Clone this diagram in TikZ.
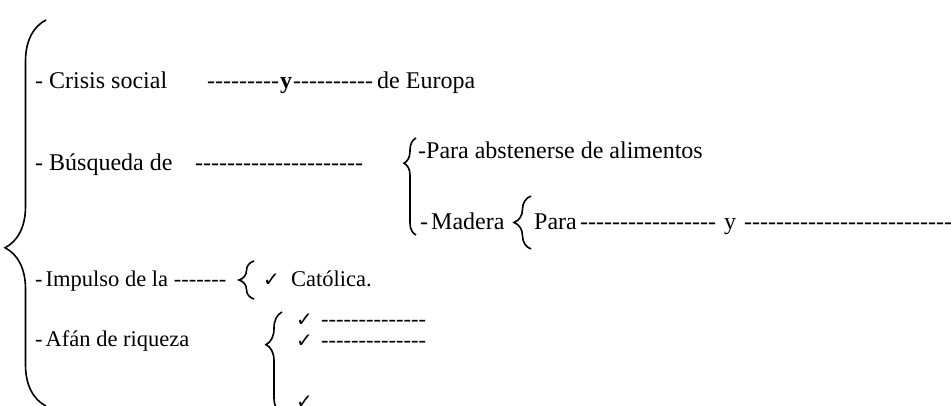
\documentclass[tikz,border=0pt]{standalone}
\usepackage{fontspec}
\setmainfont{Liberation Serif}[Ligatures=TeXOff]
\newfontfamily\simbolo{DejaVu Sans}
\usetikzlibrary{positioning,decorations.pathreplacing}

\begin{document}
\begin{tikzpicture}[
  x=1pt, y=-1pt,
  font=\fontsize{24}{29}\selectfont,
  texto/.style={anchor=base west, inner sep=0pt},
  menor/.style={texto, font=\fontsize{22.5}{26}\selectfont},
  visto/.style={anchor=base west, inner sep=0pt,
                font=\simbolo\fontsize{20}{20}\selectfont},
  llave/.style 2 args={decorate, line width=1.6pt,
                       decoration={brace, amplitude=#1, aspect=#2}},
]
\useasboundingbox (0,0) rectangle (951,405);

% ---- Llave principal ------------------------------------------------------
\coordinate (princ-abajo) at (46,406);
\coordinate (princ-arriba) at (46,20);
\draw[llave={41pt}{0.41}] (princ-abajo) -- (princ-arriba);

% ---- Crisis social --------------------------------------------------------
\node[texto] (crisis) at (35,88) {- Crisis social};
\node[texto] (guion1) at (207,88) {---------};
\node[texto] (y1) at (280,88) {\textbf{y}};
\node[texto] (guion2) at (293,88) {----------};
\node[texto] (europa) at (377,88) {de Europa};

% ---- Busqueda -------------------------------------------------------------
\node[texto] (busqueda) at (35,170) {- Búsqueda de};
\node[texto] (guion3) at (195,170) {---------------------};
\coordinate (busq-abajo) at (416,235);
\coordinate (busq-arriba) at (416,138);
\draw[llave={12pt}{0.74}] (busq-abajo) -- (busq-arriba);
\node[texto] (abstenerse) at (418,158) {-Para abstenerse de alimentos};
\node[texto] (madera) at (420,229) {-\kern3pt Madera};

% Madera
\coordinate (mad-abajo) at (531,249);
\coordinate (mad-arriba) at (531,196);
\draw[llave={17pt}{0.5}] (mad-abajo) -- (mad-arriba);
\node[texto] (para) at (534,229) {Para};
\node[texto] (guion4) at (580,229) {-----------------};
\node[texto] (y2) at (724,229) {y};
\node[texto] (guion5) at (744,229) {--------------------------};

% ---- Impulso --------------------------------------------------------------
\node[menor] (impulso) at (35,286) {-\kern3pt Impulso de la -------};
\coordinate (imp-abajo) at (254,299);
\coordinate (imp-arriba) at (254,261);
\draw[llave={15pt}{0.5}] (imp-abajo) -- (imp-arriba);
\node[visto] (visto1) at (263,286) {✓};
\node[menor] (catolica) at (291,286) {Católica.};

% ---- Afan de riqueza ------------------------------------------------------
\node[menor] (afan) at (35,346) {-\kern3pt Afán de riqueza};
\coordinate (afan-abajo) at (282,414);
\coordinate (afan-arriba) at (282,312);
\draw[llave={16pt}{0.68}] (afan-abajo) -- (afan-arriba);
\node[visto] (visto2) at (296,326) {✓};
\node[visto] (visto3) at (296,347) {✓};
\node[visto] (visto4) at (296,408) {✓};
\node[menor] (guion6) at (321,326) {--------------};
\node[menor] (guion7) at (321,347) {--------------};

\end{tikzpicture}
\end{document}
